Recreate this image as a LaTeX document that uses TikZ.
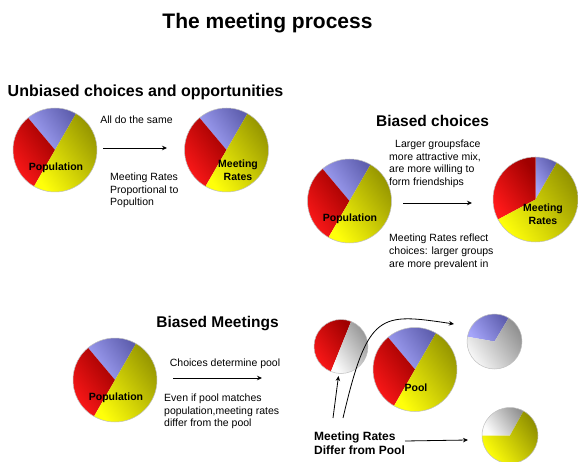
\documentclass[tikz,border=0pt]{standalone}
\usepackage{fontspec}
\setmainfont{Liberation Sans}
\usetikzlibrary{arrows.meta}

% slice colours: light and dark ends of each gradient
\definecolor{redL}{RGB}{255,25,25}
\definecolor{redD}{RGB}{160,0,0}
\definecolor{yelL}{RGB}{255,255,10}
\definecolor{yelD}{RGB}{145,145,0}
\definecolor{bluL}{RGB}{165,165,250}
\definecolor{bluD}{RGB}{95,95,175}
\definecolor{gryL}{RGB}{252,252,252}
\definecolor{gryD}{RGB}{145,145,145}

\tikzset{
  x=1pt, y=1pt,
  redsl/.style={top color=redD, bottom color=redL, shading angle=-55},
  yelsl/.style={top color=yelD, bottom color=yelL, shading angle=-55},
  blusl/.style={top color=bluD, bottom color=bluL, shading angle=-55},
  grysl/.style={top color=gryD, bottom color=gryL, shading angle=-55},
  pierim/.style={circle, draw=black!25, line width=0.5pt, inner sep=0pt},
  titletext/.style={font=\fontsize{21}{25}\selectfont\bfseries, anchor=base},
  heading/.style={font=\fontsize{15.5}{18}\selectfont\bfseries, anchor=base},
  plabel/.style={font=\fontsize{10.5}{13}\selectfont\bfseries, align=center, inner sep=0pt},
  note/.style={font=\fontsize{10.5}{12.2}\selectfont, align=left, inner sep=0pt},
  boldnote/.style={font=\fontsize{12}{14}\selectfont\bfseries, align=left, inner sep=0pt, anchor=north west},
  conn/.style={-{Stealth[length=5pt,width=4.5pt]}, line width=0.8pt},
}

% one shaded wedge: centre coordinate, radius, start angle, end angle, style
\newcommand\pieslice[5]{%
  \shade[#5] (#1) -- ++(#3:#2) arc[start angle=#3, end angle=#4, radius=#2] -- cycle;}

% the three-group pie used for populations and the pool
\newcommand\groupspie[3]{% name, centre, radius
  \coordinate (#1c) at (#2);
  \pieslice{#1c}{#3}{60}{130}{blusl}
  \pieslice{#1c}{#3}{130}{240}{redsl}
  \pieslice{#1c}{#3}{240}{420}{yelsl}
  \node[pierim, minimum size=2*#3] (#1) at (#1c) {};}

\begin{document}
\begin{tikzpicture}
\useasboundingbox (0,0) rectangle (578,461);

\node[titletext] (title) at (267.5,432.5) {The meeting process};

% ---------- unbiased choices and opportunities ----------
\node[heading, font=\fontsize{16}{19}\selectfont\bfseries] (h1) at (145.5,364) {Unbiased choices and opportunities};
\groupspie{p1}{55,311}{42}
\node[plabel] (p1lab) at (56,293) {Population};
\groupspie{m1}{226.5,311}{42}
\node[plabel] (m1lab) at (238,291) {Meeting\\Rates};

\node[note, anchor=base] (t1) at (136.5,337.5) {All do the same};
\coordinate (a1s) at (103,313);
\coordinate (a1e) at (167,313);
\draw[conn] (a1s) -- (a1e);
\node[note, anchor=north west] (t2) at (110,288) {Meeting Rates\\Proportional to\\Popultion};

% ---------- biased choices ----------
\node[heading] (h2) at (432.5,334) {Biased choices};
\groupspie{p2}{349.5,260}{42}
\node[plabel] (p2lab) at (350,242) {Population};

\coordinate (m2c) at (535.5,261.5);
\pieslice{m2c}{42.5}{60}{90}{blusl}
\pieslice{m2c}{42.5}{90}{208}{redsl}
\pieslice{m2c}{42.5}{208}{420}{yelsl}
\node[pierim, minimum size=85] (m2) at (m2c) {};
\node[plabel] (m2lab) at (543,246.5) {Meeting\\Rates};

\node[note, anchor=north west, font=\fontsize{10.5}{12.8}\selectfont] (t3) at (389,321.5)
  {\hspace*{6pt}Larger groupsface\\more attractive mix,\\are more willing to\\form friendships};
\coordinate (a2s) at (403,258);
\coordinate (a2e) at (472,258);
\draw[conn] (a2s) -- (a2e);
\node[note, anchor=north west, font=\fontsize{10.5}{12.8}\selectfont] (t4) at (389,227)
  {Meeting Rates reflect\\choices: larger groups\\are more prevalent in};

% ---------- biased meetings ----------
\node[heading] (h3) at (217.5,133.7) {Biased Meetings};
\groupspie{p3}{115,81}{42}
\node[plabel] (p3lab) at (116,63) {Population};

\node[note, anchor=base] (t5) at (225,94.5) {Choices determine pool};
\coordinate (a3s) at (173,83);
\coordinate (a3e) at (262,83);
\draw[conn] (a3s) -- (a3e);
\node[note, anchor=north west] (t6) at (164,67)
  {Even if pool matches\\population,meeting rates\\differ from the pool};

% pool
\groupspie{pool}{415,91.5}{42}
\node[plabel] (poollab) at (416,73) {Pool};

% meeting-rate pies drawn from the pool
\coordinate (s1c) at (341,114.5);
\pieslice{s1c}{27}{68}{248}{redsl}
\pieslice{s1c}{27}{248}{428}{grysl}
\node[pierim, minimum size=54] (s1) at (s1c) {};

\coordinate (s2c) at (494.5,119.5);
\pieslice{s2c}{27.5}{59}{170}{blusl}
\pieslice{s2c}{27.5}{170}{419}{grysl}
\node[pierim, minimum size=55] (s2) at (s2c) {};

\coordinate (s3c) at (510,25.5);
\pieslice{s3c}{28}{61}{180}{grysl}
\pieslice{s3c}{28}{180}{421}{yelsl}
\node[pierim, minimum size=56] (s3) at (s3c) {};

\node[boldnote] (t7) at (314,29.6) {Meeting Rates\\Differ from Pool};

\coordinate (b1s) at (333,43);
\coordinate (b1e) at (338.5,85);
\coordinate (b2s) at (343,43);
\coordinate (b2e) at (454,137);
\coordinate (b3s) at (405,20);
\coordinate (b3e) at (468,21);
\draw[conn] (b1s) -- (b1e);
\draw[conn] (b2s) .. controls (368,150) and (380,148) .. (b2e);
\draw[conn] (b3s) -- (b3e);
\end{tikzpicture}
\end{document}
